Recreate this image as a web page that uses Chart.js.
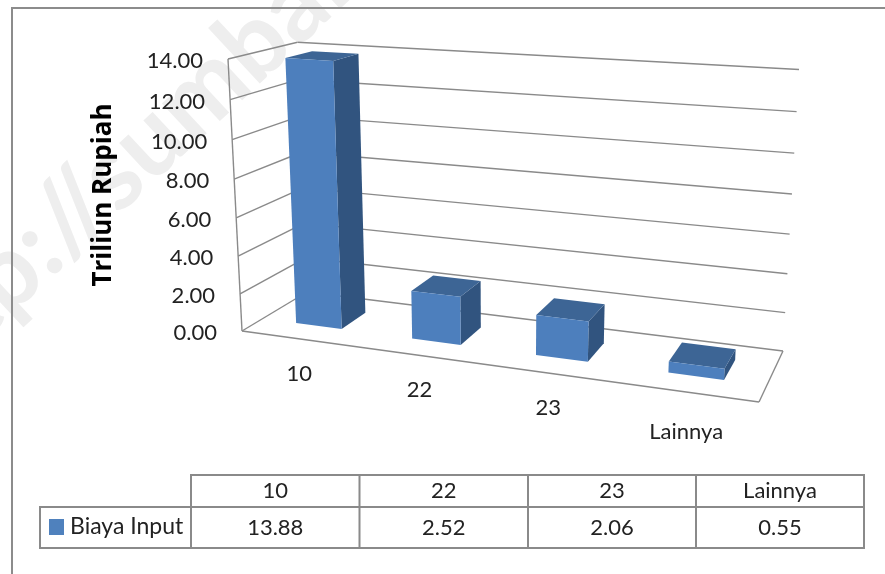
<!DOCTYPE html>
<html>
<head>
<meta charset="utf-8">
<title>Biaya Input</title>
<style>
    html, body { margin: 0; padding: 0; background: #fff; }
    canvas { display: block; }
</style>
<script src="https://cdn.jsdelivr.net/npm/chart.js@4/dist/chart.umd.js"></script>
</head>
<body>
<canvas id="myChart" width="885" height="574"></canvas>
<script>
const categories = ['10', '22', '23', 'Lainnya'];
const biayaInput = [13.88, 2.52, 2.06, 0.55];
const valueTicks = [0, 2, 4, 6, 8, 10, 12, 14];
const seriesName = 'Biaya Input';
const axisTitle = 'Triliun Rupiah';
const watermark = 'http://sumbar.bps.go.id';

const FONT = 'Lato, sans-serif';
const TEXT = '#222222';
const LINE = '#8a8a8a';

// floor of the 3d box: front left, front right, back right, back left
const floorQuad = [[242, 331], [759, 402], [783, 351], [307, 292]];
// front left top and back right top fix how the box rises from the floor
const topFrontLeft = [228, 59];
const topBackRight = [799, 69];
const barDepth = [0.3, 0.7];
const categoryLabelDrop = [35, 35, 35, 40];

function buildProjection(q) {
    const [[x0, y0], [x1, y1], [x2, y2], [x3, y3]] = q;
    const dx1 = x1 - x2, dx2 = x3 - x2, sx = x0 - x1 + x2 - x3;
    const dy1 = y1 - y2, dy2 = y3 - y2, sy = y0 - y1 + y2 - y3;
    const det = dx1 * dy2 - dx2 * dy1;
    const g = (sx * dy2 - dx2 * sy) / det;
    const h = (dx1 * sy - sx * dy1) / det;
    const a = x1 - x0 + g * x1, b = x3 - x0 + h * x3;
    const d = y1 - y0 + g * y1, e = y3 - y0 + h * y3;
    const G = g + h + 1;
    const k = (x2 * G + topFrontLeft[0] - x0 - topBackRight[0] * G) / (topBackRight[0] - topFrontLeft[0]);
    const c = topFrontLeft[0] * (1 + k) - x0;
    const f = topFrontLeft[1] * (1 + k) - y0;
    // u along the categories, v into the depth, t up the value axis (all 0..1)
    return (u, v, t) => {
        const w = g * u + h * v + k * t + 1;
        return [(a * u + b * v + c * t + x0) / w, (d * u + e * v + f * t + y0) / w];
    };
}

const project = buildProjection(floorQuad);

function poly(ctx, pts, fill) {
    ctx.beginPath();
    pts.forEach((p, i) => i ? ctx.lineTo(p[0], p[1]) : ctx.moveTo(p[0], p[1]));
    ctx.closePath();
    ctx.fillStyle = fill;
    ctx.fill();
}

function segment(ctx, a, b) {
    ctx.beginPath();
    ctx.moveTo(a[0], a[1]);
    ctx.lineTo(b[0], b[1]);
    ctx.stroke();
}

// bar chart whose bars are drawn as boxes standing on the floor
class Bar3dController extends Chart.BarController {
    draw() {
        const ctx = this.chart.ctx;
        const area = this.chart.chartArea;
        this.getMeta().data.forEach((bar) => {
            const { x, y, base, width } = bar.getProps(['x', 'y', 'base', 'width'], true);
            const u0 = (x - width / 2 - area.left) / area.width;
            const u1 = (x + width / 2 - area.left) / area.width;
            const t0 = (area.bottom - base) / area.height;
            const t1 = (area.bottom - y) / area.height;
            const [v0, v1] = barDepth;
            poly(ctx, [project(u1, v0, t0), project(u1, v1, t0), project(u1, v1, t1), project(u1, v0, t1)], '#31547f');
            poly(ctx, [project(u0, v0, t1), project(u1, v0, t1), project(u1, v1, t1), project(u0, v1, t1)], '#3d6595');
            poly(ctx, [project(u0, v0, t0), project(u1, v0, t0), project(u1, v0, t1), project(u0, v0, t1)], '#4d7fbd');
        });
    }
}
Bar3dController.id = 'bar3d';
Chart.register(Bar3dController);

const frameAndWalls = {
    id: 'frameAndWalls',
    beforeDraw(chart) {
        const ctx = chart.ctx;
        ctx.save();
        ctx.fillStyle = '#fff';
        ctx.fillRect(0, 0, chart.width, chart.height);

        // diagonal site address behind the chart, anchored on the start of the host name
        ctx.translate(121, 213);
        ctx.rotate(-43 * Math.PI / 180);
        ctx.font = 'bold 102px ' + FONT;
        ctx.fillStyle = '#eeeeee';
        ctx.textBaseline = 'alphabetic';
        ctx.fillText(watermark, -ctx.measureText('http://').width, 0);
        ctx.restore();

        ctx.save();
        ctx.strokeStyle = '#8c8c8c';
        ctx.lineWidth = 2;
        ctx.beginPath();
        ctx.moveTo(12, chart.height);
        ctx.lineTo(12, 8);
        ctx.lineTo(chart.width, 8);
        ctx.stroke();
        ctx.restore();
    },
    beforeDatasetsDraw(chart) {
        const ctx = chart.ctx;
        const y = chart.scales.y;
        const area = chart.chartArea;
        ctx.save();
        ctx.strokeStyle = LINE;
        ctx.lineWidth = 1.4;
        y.ticks.forEach((tick) => {
            const t = (area.bottom - y.getPixelForValue(tick.value)) / area.height;
            segment(ctx, project(0, 0, t), project(0, 1, t));
            segment(ctx, project(0, 1, t), project(1, 1, t));
        });
        segment(ctx, project(0, 0, 0), project(0, 0, 1));
        segment(ctx, project(0, 0, 0), project(1, 0, 0));
        segment(ctx, project(1, 0, 0), project(1, 1, 0));
        ctx.restore();
    },
    afterDraw(chart) {
        const ctx = chart.ctx;
        const x = chart.scales.x;
        const y = chart.scales.y;
        const area = chart.chartArea;
        ctx.save();
        ctx.fillStyle = TEXT;
        ctx.font = '22px ' + FONT;

        // value axis labels follow the slanted front edge
        ctx.textAlign = 'right';
        ctx.textBaseline = 'middle';
        y.ticks.forEach((tick) => {
            const t = (area.bottom - y.getPixelForValue(tick.value)) / area.height;
            const p = project(0, 0, t);
            ctx.fillText(tick.label, p[0] - 25, p[1] + 2);
        });

        // category labels hang under the front edge of the floor
        ctx.textAlign = 'center';
        categories.forEach((name, i) => {
            const u = (x.getPixelForTick(i) - area.left) / area.width;
            const p = project(u, 0, 0);
            ctx.fillText(name, p[0], p[1] + categoryLabelDrop[i]);
        });

        drawDataTable(ctx);
        ctx.restore();
    }
};

function drawDataTable(ctx) {
    const cols = [191, 359.5, 528, 696, 864];
    const top = 475, mid = 507, bottom = 548, left = 40;
    ctx.strokeStyle = LINE;
    ctx.lineWidth = 2;
    ctx.beginPath();
    ctx.moveTo(cols[0], bottom);
    ctx.lineTo(cols[0], top);
    ctx.lineTo(cols[4], top);
    ctx.lineTo(cols[4], bottom);
    ctx.lineTo(left, bottom);
    ctx.lineTo(left, mid);
    ctx.lineTo(cols[4], mid);
    cols.slice(1, 4).forEach((c) => {
        ctx.moveTo(c, top);
        ctx.lineTo(c, bottom);
    });
    ctx.stroke();

    ctx.fillStyle = '#4f81bd';
    ctx.fillRect(49, 519, 15, 16);

    ctx.fillStyle = TEXT;
    ctx.textBaseline = 'middle';
    ctx.textAlign = 'center';
    categories.forEach((name, i) => {
        const c = (cols[i] + cols[i + 1]) / 2;
        ctx.fillText(name, c, 491);
        ctx.fillText(biayaInput[i].toFixed(2), c, 528);
    });
    ctx.textAlign = 'left';
    ctx.font = '23px ' + FONT;
    ctx.fillText(seriesName, 70, 527);
}

new Chart(document.getElementById('myChart').getContext('2d'), {
    type: 'bar3d',
    data: {
        labels: categories,
        datasets: [{
            label: seriesName,
            data: biayaInput,
            backgroundColor: '#4f81bd',
            barPercentage: 0.4,
            categoryPercentage: 1,
            clip: false
        }]
    },
    options: {
        responsive: false,
        animation: false,
        layout: { padding: { left: 88, right: 126, top: 59, bottom: 243 } },
        plugins: { legend: { display: false }, tooltip: { enabled: false } },
        scales: {
            x: { display: false },
            y: {
                min: 0,
                max: 14,
                afterBuildTicks: (scale) => { scale.ticks = valueTicks.map((v) => ({ value: v })); },
                afterFit: (scale) => { scale.width = 242 - 88; },
                ticks: { display: true, color: 'rgba(0,0,0,0)', callback: (v) => v.toFixed(2) },
                grid: { display: false },
                border: { display: false },
                title: {
                    display: true,
                    text: axisTitle,
                    color: '#000',
                    font: { family: '"Open Sans", sans-serif', size: 26, weight: 'bold' },
                    padding: 0
                }
            }
        }
    },
    plugins: [frameAndWalls]
});
</script>
</body>
</html>
